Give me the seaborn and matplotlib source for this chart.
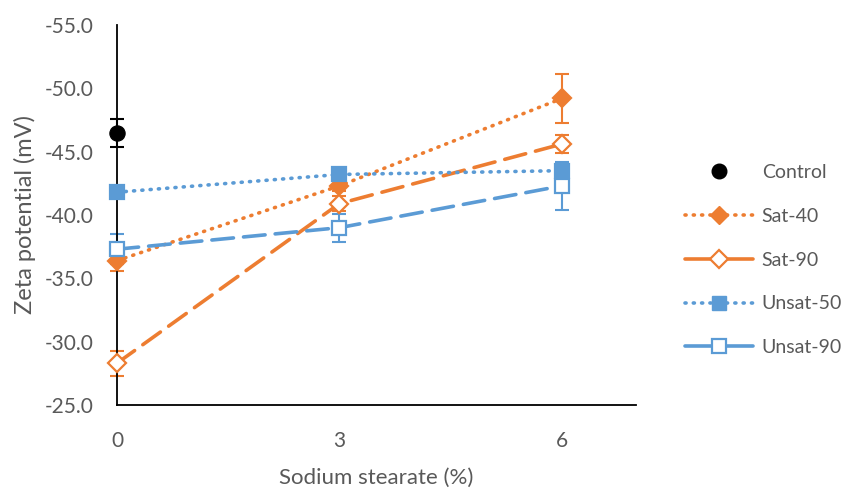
import matplotlib
matplotlib.use("Agg")
import matplotlib.pyplot as plt
from matplotlib.lines import Line2D
import seaborn as sns
import pandas as pd

# ---- data ----
x_levels = [0, 3, 6]
control_x = [0]
control_y = [-46.5]
control_err = [1.1]

sat40 = [-36.4, -42.3, -49.2]
sat40_err = [0.8, 0.4, 1.9]
sat90 = [-28.3, -40.9, -45.6]
sat90_err = [1.0, 0.6, 0.7]
unsat50 = [-41.8, -43.2, -43.5]
unsat50_err = [0.2, 0.2, 0.2]
unsat90 = [-37.3, -39.0, -42.3]
unsat90_err = [1.2, 1.1, 1.9]

series_names = ["Sat-40", "Sat-90", "Unsat-50", "Unsat-90"]
y_ticks = [-55, -50, -45, -40, -35, -30, -25]

ORANGE = "#ED7D31"
BLUE = "#5B9BD5"
GRAY = "#595959"
DOT = (0, (0.3, 2.0))
DASH = (0, (6, 2.8))

sns.set_theme(style="white")
plt.rcParams["font.family"] = ["Lato", "DejaVu Sans"]

fig = plt.figure(figsize=(8.5, 4.88), dpi=100)
ax = fig.add_axes([117 / 850, 1 - 405 / 488, (636 - 117) / 850, (405 - 25) / 488])

styles = {
    "Sat-40": dict(color=ORANGE, ls=DOT, marker="D", mfc=ORANGE, ms=9),
    "Sat-90": dict(color=ORANGE, ls=DASH, marker="D", mfc="white", ms=9),
    "Unsat-50": dict(color=BLUE, ls=DOT, marker="s", mfc=BLUE, ms=9.5),
    "Unsat-90": dict(color=BLUE, ls=DASH, marker="s", mfc="white", ms=9.5),
}
values = {"Sat-40": (sat40, sat40_err), "Sat-90": (sat90, sat90_err),
          "Unsat-50": (unsat50, unsat50_err), "Unsat-90": (unsat90, unsat90_err)}

for name in series_names:
    yv, ye = values[name]
    st = styles[name]
    df = pd.DataFrame({"x": x_levels, "y": yv})
    eb = ax.errorbar(x_levels, yv, yerr=ye, fmt="none", ecolor=st["color"],
                     elinewidth=1.5, capsize=5, capthick=1.5, zorder=2)
    for art in eb.lines[1] + eb.lines[2]:
        art.set_clip_on(False)
    n_before = len(ax.lines)
    sns.lineplot(data=df, x="x", y="y", ax=ax, color=st["color"], linewidth=2.6,
                 linestyle=st["ls"], marker=st["marker"], markersize=st["ms"],
                 markerfacecolor=st["mfc"], markeredgecolor=st["color"],
                 markeredgewidth=1.6, zorder=3, legend=False,
                 dash_capstyle="round")
    for ln in ax.lines[n_before:]:
        ln.set_clip_on(False)

# Control
eb = ax.errorbar(control_x, control_y, yerr=control_err, fmt="none", ecolor="black",
                 elinewidth=1.5, capsize=5, capthick=1.5, zorder=4)
for art in eb.lines[1] + eb.lines[2]:
    art.set_clip_on(False)
sns.scatterplot(x=control_x, y=control_y, ax=ax, color="black", s=120,
                edgecolor="black", zorder=5, legend=False)
for c in ax.collections:
    c.set_clip_on(False)

ax.set_xlim(0, 7)
ax.set_ylim(-25, -55)
ax.set_xticks(x_levels)
ax.set_xticklabels([str(v) for v in x_levels])
ax.set_yticks(y_ticks)
ax.set_yticklabels([f"{v:.1f}" for v in y_ticks])
ax.tick_params(axis="both", length=0, labelsize=15, colors=GRAY)
ax.tick_params(axis="x", pad=19)
ax.tick_params(axis="y", pad=17)
for s in ["top", "right"]:
    ax.spines[s].set_visible(False)
for s in ["left", "bottom"]:
    ax.spines[s].set_color("black")
    ax.spines[s].set_linewidth(1.3)
ax.set_xlabel("Sodium stearate (%)", fontsize=16, color=GRAY, labelpad=12)
ax.set_ylabel("Zeta potential (mV)", fontsize=17, color=GRAY, labelpad=6)
ax.grid(False)

handles = [
    Line2D([], [], color="black", ls="none", marker="o", ms=10.5),
    Line2D([], [], color=ORANGE, ls=DOT, lw=2.6, marker="D", ms=9, mfc=ORANGE, dash_capstyle="round"),
    Line2D([], [], color=ORANGE, ls="-", lw=2.6, marker="D", ms=9, mfc="white", mew=1.6),
    Line2D([], [], color=BLUE, ls=DOT, lw=2.6, marker="s", ms=9.5, mfc=BLUE, dash_capstyle="round"),
    Line2D([], [], color=BLUE, ls="-", lw=2.6, marker="s", ms=9.5, mfc="white", mew=1.6),
]
labels = ["Control"] + series_names
leg = fig.legend(handles, labels, loc="center left", bbox_to_anchor=(681 / 850, 1 - 260 / 488),
                 frameon=False, fontsize=14, handlelength=3.5, handletextpad=0.45,
                 labelspacing=1.38, borderaxespad=0, borderpad=0.2)
for t in leg.get_texts():
    t.set_color(GRAY)

fig.savefig("out.png", dpi=100)
